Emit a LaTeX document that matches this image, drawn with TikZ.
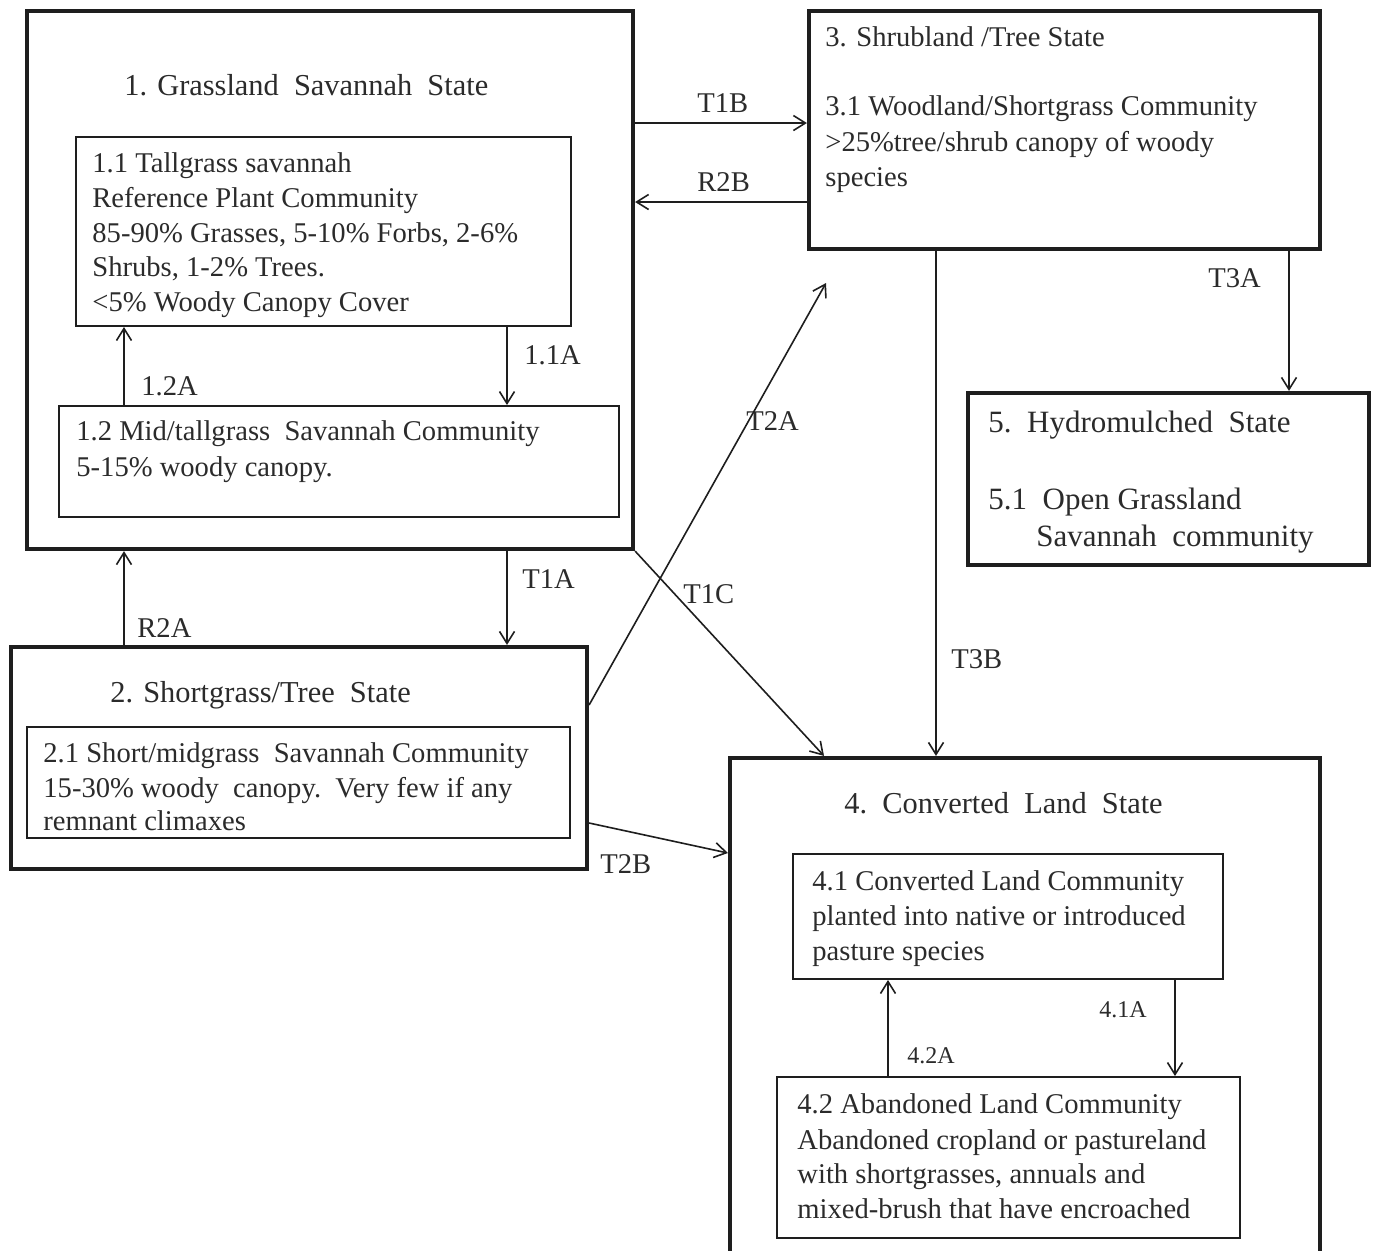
\documentclass[tikz,border=0pt]{standalone}
\usepackage{fontspec}
\setmainfont{Liberation Serif}
\usetikzlibrary{arrows.meta,fit}
\definecolor{linec}{HTML}{1E1E1E}
\definecolor{textc}{HTML}{2B2B2B}
\begin{document}
\begin{tikzpicture}[x=0.5pt,y=-0.5pt,
  outerbox/.style={draw=linec, line width=2.1pt, inner sep=0pt},
  innerbox/.style={draw=linec, line width=1pt, inner sep=0pt},
  txt/.style={anchor=base west, inner sep=0pt, font=\fontsize{14.3}{17}\selectfont, text=textc},
  titletxt/.style={txt, font=\fontsize{15.2}{18}\selectfont},
  bigtxt/.style={txt, font=\fontsize{15.5}{18}\selectfont},
  smalltxt/.style={txt, font=\fontsize{12}{14}\selectfont},
  arr/.style={draw=linec, line width=0.8pt, -{Straight Barb[length=6pt,width=7.5pt,line width=0.8pt]}}]
\useasboundingbox (0,0) rectangle (1376,1250);
\fill[white] (0,0) rectangle (1376,1250);

% boxes
\node[outerbox, fit={(27,11) (633,549)}] (b1) {};
\node[innerbox, fit={(76,137) (571,326)}] (b11) {};
\node[innerbox, fit={(59,406) (619,517)}] (b12) {};
\node[outerbox, fit={(809,11) (1320,249)}] (b3) {};
\node[outerbox, fit={(968,393) (1369,565)}] (b5) {};
\node[outerbox, fit={(11,647) (587,869)}] (b2) {};
\node[innerbox, fit={(27,727) (570,838)}] (b21) {};
\node[outerbox, fit={(730,758) (1320,1260)}] (b4) {};
\node[innerbox, fit={(793,854) (1223,979)}] (b41) {};
\node[innerbox, fit={(777,1077) (1240,1238)}] (b42) {};

% texts of state 1
\node[titletxt] (t1) at (124,95) {1. Grassland\ \ Savannah\ \ State};
\node[txt] (t11a) at (92,172) {1.1 Tallgrass savannah};
\node[txt] (t11b) at (92,207) {Reference Plant Community};
\node[txt] (t11c) at (92,242) {85-90\% Grasses, 5-10\% Forbs, 2-6\%};
\node[txt] (t11d) at (92,276) {Shrubs, 1-2\% Trees.};
\node[txt] (t11e) at (92,311) {<5\% Woody Canopy Cover};
\node[txt] (t12a) at (76,440) {1.2 Mid/tallgrass\ \ Savannah Community};
\node[txt] (t12b) at (76,476) {5-15\% woody canopy.};

% texts of state 3
\node[txt] (t3) at (825,46) {3. Shrubland /Tree State};
\node[txt] (t31a) at (825,115) {3.1 Woodland/Shortgrass Community};
\node[txt] (t31b) at (825,151) {>25\%tree/shrub canopy of woody};
\node[txt] (t31c) at (825,186) {species};

% texts of state 5
\node[bigtxt] (t5) at (988,432) {5.\ \ Hydromulched\ \ State};
\node[bigtxt] (t51a) at (988,509) {5.1\ \ Open Grassland};
\node[bigtxt] (t51b) at (1036,546) {Savannah\ \ community};

% texts of state 2
\node[titletxt] (t2) at (110,702) {2. Shortgrass/Tree\ \ State};
\node[txt] (t21a) at (43,762) {2.1 Short/midgrass\ \ Savannah Community};
\node[txt] (t21b) at (43,797) {15-30\% woody\ \ canopy.\ \ Very few if any};
\node[txt] (t21c) at (43,830) {remnant climaxes};

% texts of state 4
\node[titletxt] (t4) at (844,813) {4.\ \ Converted\ \ Land\ \ State};
\node[txt] (t41a) at (812,890) {4.1 Converted Land Community};
\node[txt] (t41b) at (812,925) {planted into native or introduced};
\node[txt] (t41c) at (812,960) {pasture species};
\node[txt] (t42a) at (797,1113) {4.2 Abandoned Land Community};
\node[txt] (t42b) at (797,1149) {Abandoned cropland or pastureland};
\node[txt] (t42c) at (797,1183) {with shortgrasses, annuals and};
\node[txt] (t42d) at (797,1218) {mixed-brush that have encroached};

% transition labels
\node[txt] (l11a) at (524,364) {1.1A};
\node[txt] (l12a) at (141,395) {1.2A};
\node[txt] (lt1b) at (697,112) {T1B};
\node[txt] (lr2b) at (697,191) {R2B};
\node[txt] (lt3a) at (1208,287) {T3A};
\node[txt] (lt2a) at (746,430) {T2A};
\node[txt] (lt1a) at (522,588) {T1A};
\node[txt] (lt1c) at (683,603) {T1C};
\node[txt] (lr2a) at (137,637) {R2A};
\node[txt] (lt3b) at (951,668) {T3B};
\node[txt] (lt2b) at (600,873) {T2B};
\node[smalltxt] (l41a) at (1099,1017) {4.1A};
\node[smalltxt] (l42a) at (907,1063) {4.2A};

% connectors
\draw[arr] (507,0 |- b11.south) -- (507,0 |- b12.north);
\draw[arr] (124,0 |- b12.north) -- (124,0 |- b11.south);
\draw[arr] (b1.east |- 0,123) -- (b3.west |- 0,123);
\draw[arr] (b3.west |- 0,202) -- (b1.east |- 0,202);
\draw[arr] (507,0 |- b1.south) -- (507,0 |- b2.north);
\draw[arr] (124,0 |- b2.north) -- (124,0 |- b1.south);
\coordinate (t2aend) at (826,283);
\draw[arr] (b2.east |- 0,705) -- (t2aend);
\draw[arr] (b1.south east) -- (824,0 |- b4.north);
\draw[arr] (b2.east |- 0,823) -- (b4.west |- 0,853);
\draw[arr] (1289,0 |- b3.south) -- (1289,0 |- b5.north);
\draw[arr] (936,0 |- b3.south) -- (936,0 |- b4.north);
\draw[arr] (1175,0 |- b41.south) -- (1175,0 |- b42.north);
\draw[arr] (888,0 |- b42.north) -- (888,0 |- b41.south);
\end{tikzpicture}
\end{document}
